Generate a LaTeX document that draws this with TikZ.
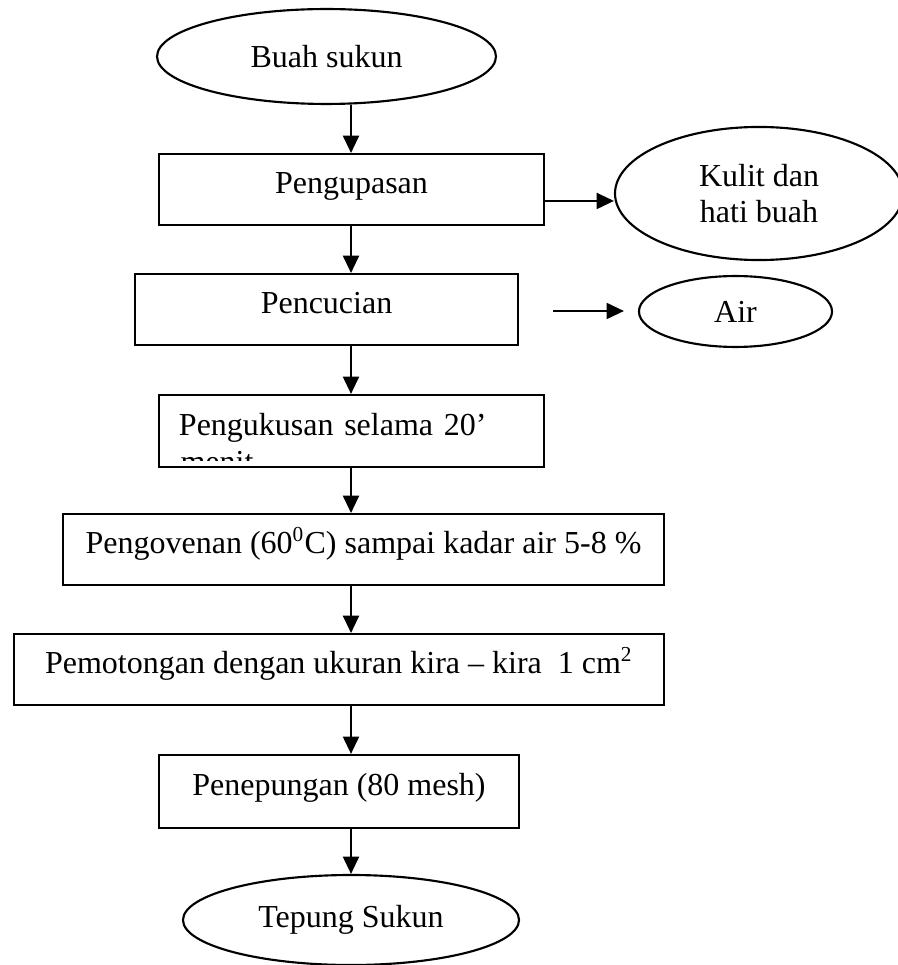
\documentclass[tikz,border=0pt]{standalone}
\usepackage{fontspec}
\setmainfont{Liberation Serif}
\usetikzlibrary{shapes.geometric,arrows.meta}

\begin{document}
\begin{tikzpicture}[x=0.375pt,y=-0.375pt,font=\fontsize{12}{13.8}\selectfont]
    \useasboundingbox (0,0) rectangle (897,965);
    \coordinate (spine) at (351,0);
    % ellipses
    \begin{scope}[every node/.style={ellipse,draw,line width=0.8pt,inner sep=0pt,align=center}]
        \node[minimum width=127.1pt,minimum height=35.6pt] (buah)  at (326.5,56.5) {Buah sukun};
        \node[minimum width=108pt,minimum height=49.9pt]   (kulit) at (759,193.5)  {Kulit dan\\hati buah};
        \node[minimum width=72.4pt,minimum height=26.6pt]  (air)   at (735.5,311.5) {Air};
        \node[minimum width=126pt,minimum height=33.75pt]  (hasil) at (351,920)    {Tepung Sukun};
    \end{scope}
    % process boxes
    \begin{scope}[every node/.style={rectangle,draw,line width=0.8pt,inner sep=0pt,
            minimum height=26.6pt,text height=.7em,text depth=.4em}]
        \node[minimum width=144.4pt] (kupas)  at (351.5,189.5) {Pengupasan};
        \node[minimum width=143.6pt] (cuci)   at (326.5,309.5) {Pencucian};
        \node[minimum width=144.4pt,minimum height=27pt,text width=129.4pt,
              inner xsep=7.5pt,align=left] (kukus) at (351.5,431) {Pengukusan selama 20'};
        \node[minimum width=225.4pt] (oven)   at (363.5,549.5) {Pengovenan (60\textsuperscript{0}C) sampai kadar air 5-8 \%};
        \node[minimum width=243.75pt] (potong) at (339,669.5)  {Pemotongan dengan ukuran kira -- kira~ 1 cm\textsuperscript{2}};
        \node[minimum width=135pt,minimum height=27.4pt] (tepung) at (339,791.5) {Penepungan (80 mesh)};
    \end{scope}
    % second line of the steaming box, cut off by the box
    \begin{scope}
        \clip (kukus.north west) rectangle ([yshift=3pt]kukus.south east);
        \node[anchor=base west,inner sep=0pt] (menit) at (180,472) {menit};
    \end{scope}
    \coordinate (airfrom) at (553,311);
    \begin{scope}[line width=0.8pt,-{Triangle[length=6.5pt,width=6pt]}]
        \foreach \a/\b in {buah/kupas,kupas/cuci,cuci/kukus,kukus/oven,oven/potong,potong/tepung,tepung/hasil}
            {\draw (\a.south -| spine)--(\b.north -| spine);}
        \draw ([yshift=-4.3pt]kupas.east)--([yshift=-4.3pt]kupas.east -| kulit.west);
        \draw[shorten >=5.25pt] (airfrom)--(airfrom -| air.west);
    \end{scope}
\end{tikzpicture}
\end{document}
